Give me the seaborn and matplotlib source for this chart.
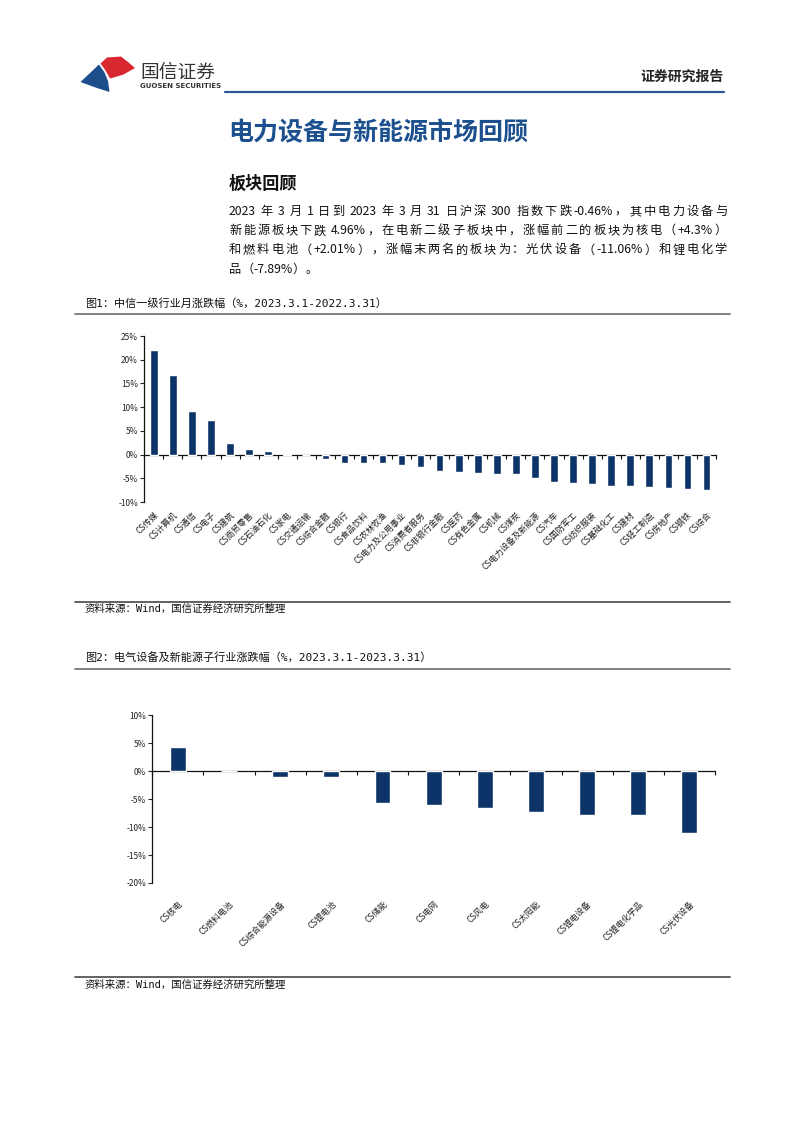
import numpy as np
import matplotlib
matplotlib.use("Agg")
import matplotlib.pyplot as plt
from matplotlib.patches import Polygon
import seaborn as sns

sns.set_style("white")
plt.rcParams['font.family'] = ['Noto Sans CJK SC', 'DejaVu Sans']
plt.rcParams['axes.unicode_minus'] = False

# ---------------- data ----------------
cats1 = ["CS传媒", "CS计算机", "CS通信", "CS电子", "CS建筑", "CS商贸零售", "CS石油石化",
         "CS家电", "CS交通运输", "CS综合金融", "CS银行", "CS食品饮料", "CS农林牧渔",
         "CS电力及公用事业", "CS消费者服务", "CS非银行金融", "CS医药", "CS有色金属",
         "CS机械", "CS煤炭", "CS电力设备及新能源", "CS汽车", "CS国防军工", "CS纺织服装",
         "CS基础化工", "CS建材", "CS轻工制造", "CS房地产", "CS钢铁", "CS综合"]
vals1 = [22.0, 16.8, 9.1, 7.2, 2.5, 1.2, 0.85, 0.05, -0.1, -0.9, -1.7, -1.75, -1.8,
         -2.1, -2.6, -3.4, -3.7, -3.9, -4.1, -4.2, -4.96, -5.85, -5.9, -6.3,
         -6.55, -6.7, -6.9, -7.05, -7.3, -7.55]
yticks1 = [-10, -5, 0, 5, 10, 15, 20, 25]

cats2 = ["CS核电", "CS燃料电池", "CS综合能源设备", "CS锂电池", "CS储能", "CS电网",
         "CS风电", "CS太阳能", "CS锂电设备", "CS锂电化学品", "CS光伏设备"]
vals2 = [4.3, 0.1, -0.95, -1.1, -5.7, -6.1, -6.5, -7.3, -7.75, -7.89, -11.06]
yticks2 = [-20, -15, -10, -5, 0, 5, 10]

para = ["2023 年 3 月 1 日到 2023 年 3 月 31 日沪深 300 指数下跌-0.46%，其中电力设备与",
        "新能源板块下跌 4.96%，在电新二级子板块中，涨幅前二的板块为核电（+4.3%）",
        "和燃料电池（+2.01%），涨幅末两名的板块为：光伏设备（-11.06%）和锂电化学",
        "品（-7.89%）。"]

NAVY = "#0d3468"
TITLE_BLUE = "#1b4f8e"
W, H = 802, 1133
CAP_FAMILY = ['DejaVu Sans Mono', 'Noto Sans CJK SC']

fig = plt.figure(figsize=(W / 100, H / 100), dpi=100)
renderer = fig.canvas.get_renderer()

# overlay axes in pixel coordinates for page decoration
ov = fig.add_axes([0, 0, 1, 1])
ov.set_xlim(0, W)
ov.set_ylim(H, 0)
ov.axis("off")

# logo
ov.add_patch(Polygon([(80.5, 82), (99, 64.5), (104.5, 72.5), (108, 81), (109.5, 92), (95.5, 87.5)],
                     closed=True, color="#1d4e8c", lw=0))
ov.add_patch(Polygon([(100.5, 63.5), (107, 57.5), (121, 56.5), (128, 62), (135, 68),
                      (123.5, 74.5), (115.5, 77), (110, 78.5), (105.5, 70.5)],
                     closed=True, color="#d7282f", lw=0))
ov.text(140, 72, "国信证券", fontsize=13.5, color="#333333", va="center", ha="left")
ov.text(140.5, 86.5, "GUOSEN SECURITIES", fontsize=5.0, color="#333333", va="center",
        ha="left", fontweight="bold", family=["DejaVu Sans"])
ov.text(724, 76.5, "证券研究报告", fontsize=10, fontweight="bold", color="#222222",
        va="center", ha="right")
ov.plot([225, 724], [91.5, 91.5], color="#2b5797", lw=1.6)

# headings
ov.text(228, 133, "电力设备与新能源市场回顾", fontsize=18, fontweight="bold",
        color=TITLE_BLUE, va="center", ha="left")
ov.text(229, 184, "板块回顾", fontsize=12.3, fontweight="bold", color="#111111",
        va="center", ha="left")


def ink_w(s, fs):
    t = ov.text(0, 0, s, fontsize=fs)
    w = t.get_window_extent(renderer).width
    t.remove()
    return w


def tokenize(s):
    toks = []
    cur = ""
    sp = False
    for ch in s:
        if ch == " ":
            if cur:
                toks.append([cur, sp])
                cur = ""
            sp = True
        elif ord(ch) < 128:
            cur += ch
        else:
            if cur:
                toks.append([cur, sp])
                cur = ""
                sp = False
            toks.append([ch, sp])
            sp = False
    if cur:
        toks.append([cur, sp])
    return toks


def justified_line(s, x0, x1, y, fs, justify=True):
    toks = tokenize(s)
    w_ref = ink_w("国", fs)
    adv_ref = ink_w("国国", fs) - w_ref
    space_w = ink_w("国 国", fs) - ink_w("国国", fs)
    advs, offs = [], []
    for t, _ in toks:
        a = ink_w("国" + t + "国", fs) - ink_w("国国", fs)
        lb = ink_w("国" + t, fs) - adv_ref - ink_w(t, fs)
        advs.append(a)
        offs.append(lb)
    natural = sum(advs) + sum(space_w for i, (_, sp) in enumerate(toks) if sp and i > 0)
    gaps = max(len(toks) - 1, 1)
    extra = (x1 - x0 - natural) / gaps if justify else 0.0
    x = x0
    for i, ((t, sp), a, lb) in enumerate(zip(toks, advs, offs)):
        if i > 0:
            x += extra + (space_w if sp else 0.0)
        ov.text(x + lb, y, t, fontsize=fs, color="#111111", va="center", ha="left")
        x += a


for i, line in enumerate(para):
    justified_line(line, 229, 727, 211.5 + i * 19.2, 8.8, justify=(i < len(para) - 1))

# figure captions and separators
ov.text(85, 303, "图1：中信一级行业月涨跌幅（%，2023.3.1-2022.3.31）", fontsize=8,
        family=CAP_FAMILY, color="#111111", va="center", ha="left")
ov.plot([75, 730], [314, 314], color="#777777", lw=1.3)
ov.plot([75, 730], [601.5, 601.5], color="#555555", lw=1.3)
ov.text(85, 609, "资料来源：Wind，国信证券经济研究所整理", fontsize=7.5,
        family=CAP_FAMILY, color="#111111", va="center", ha="left")

ov.text(85, 657.5, "图2：电气设备及新能源子行业涨跌幅（%，2023.3.1-2023.3.31）", fontsize=8,
        family=CAP_FAMILY, color="#111111", va="center", ha="left")
ov.plot([75, 730], [668.5, 668.5], color="#777777", lw=1.3)
ov.plot([75, 730], [976.5, 976.5], color="#555555", lw=1.3)
ov.text(85, 984.5, "资料来源：Wind，国信证券经济研究所整理", fontsize=7.5,
        family=CAP_FAMILY, color="#111111", va="center", ha="left")


def px_axes(left, right, top, bottom):
    return fig.add_axes([left / W, 1 - bottom / H, (right - left) / W, (bottom - top) / H])


def bar_chart(ax, cats, vals, yticks, width, label_pad):
    n = len(cats)
    sns.barplot(x=cats, y=vals, color=NAVY, saturation=1, width=width, ax=ax)
    ax.set_xlim(-0.5, n - 0.5)
    ax.set_ylim(yticks[0], yticks[-1])
    ax.set_yticks(yticks)
    ax.set_yticklabels([f"{v}%" for v in yticks], fontsize=6, color="#222222")
    ax.tick_params(axis="y", direction="out", length=3, width=0.8, pad=1.5, left=True)
    ax.set_xticks(range(n))
    ax.set_xticklabels(cats, rotation=45, ha="right", rotation_mode="anchor",
                       fontsize=6, color="#222222")
    ax.tick_params(axis="x", length=0, pad=label_pad)
    for s in ["top", "right", "bottom"]:
        ax.spines[s].set_visible(False)
    ax.spines["left"].set_linewidth(0.9)
    ax.spines["left"].set_color("#111111")
    ax.set_xlabel("")
    ax.set_ylabel("")
    ax.grid(False)
    sec = ax.secondary_xaxis(0, transform=ax.transData)
    sec.set_xticks(np.arange(n + 1) - 0.5)
    sec.set_xticklabels([])
    sec.tick_params(direction="out", length=3, width=0.8, color="#111111")
    sec.spines["bottom"].set_linewidth(0.9)
    sec.spines["bottom"].set_color("#111111")


ax1 = px_axes(144.3, 716, 336, 502)
bar_chart(ax1, cats1, vals1, yticks1, 0.40, 6)

ax2 = px_axes(152.3, 715, 715.3, 883)
bar_chart(ax2, cats2, vals2, yticks2, 0.31, 12)

fig.savefig("out.png", dpi=100)
